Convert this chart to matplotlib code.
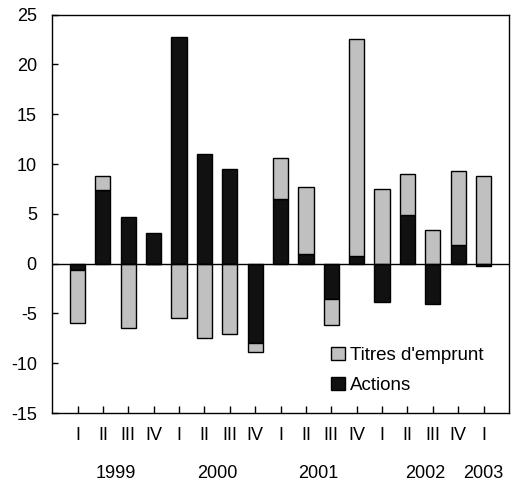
import matplotlib
matplotlib.use("Agg")
import matplotlib.pyplot as plt
import numpy as np
from matplotlib.patches import Patch
import matplotlib.transforms as mtransforms

plt.rcParams['font.family'] = ['Liberation Sans', 'DejaVu Sans']
plt.rcParams['axes.unicode_minus'] = False

quarters = ["I", "II", "III", "IV", "I", "II", "III", "IV", "I", "II", "III", "IV",
            "I", "II", "III", "IV", "I"]
years = ["1999", "2000", "2001", "2002", "2003"]
year_pos = [1.5, 5.5, 9.5, 13.7, 16.0]
actions = [-0.65, 7.4, 4.7, 3.1, 22.7, 11.0, 9.5, -8.0, 6.5, 1.0, -3.55, 0.8,
           -3.8, 4.85, -4.0, 1.85, -0.2]
titres = [-5.35, 1.4, -6.5, 0.0, -5.45, -7.45, -7.1, -0.9, 4.1, 6.7, -2.65, 21.7,
          7.5, 4.15, 3.4, 7.45, 8.8]

fig = plt.figure(figsize=(5.11, 4.86), dpi=100)
ax = fig.add_axes([0.102, 0.150, 0.894, 0.820])

x = np.arange(len(quarters))
a = np.array(actions)
t = np.array(titres)
bottom_t = np.where(np.sign(a) == np.sign(t), a, 0.0)

w = 0.6
ax.bar(x, a, width=w, color="#111111", edgecolor="black", linewidth=1.0, zorder=2)
ax.bar(x, t, width=w, bottom=bottom_t, color="#c0c0c0", edgecolor="black", linewidth=1.0, zorder=2)

ax.axhline(0, color="black", linewidth=1.0, zorder=3)
ax.set_xlim(-1, len(quarters))
ax.set_ylim(-15, 25)
ax.set_yticks(np.arange(-15, 26, 5))
ax.set_xticks(x)
ax.set_xticklabels(quarters)
ax.tick_params(axis="both", direction="in", labelsize=13, color="black", width=1)
ax.tick_params(axis="x", length=5, pad=10)
ax.tick_params(axis="y", length=4, pad=11)
for s in ax.spines.values():
    s.set_linewidth(1.0)
    s.set_color("black")

trans = mtransforms.blended_transform_factory(ax.transData, fig.transFigure)
for yr, p in zip(years, year_pos):
    ax.text(p, 1 - 473 / 486, yr, transform=trans, ha="center", va="center", fontsize=13)

handles = [Patch(facecolor="#c0c0c0", edgecolor="black", label="Titres d'emprunt"),
           Patch(facecolor="#111111", edgecolor="black", label="Actions")]
ax.legend(handles=handles, loc="center left", bbox_to_anchor=(0.6105, 0.107), frameon=False,
          fontsize=13.5, handlelength=0.75, handleheight=0.7, handletextpad=0.25,
          labelspacing=0.65, borderaxespad=0, borderpad=0)

fig.savefig("out.png", dpi=100)
